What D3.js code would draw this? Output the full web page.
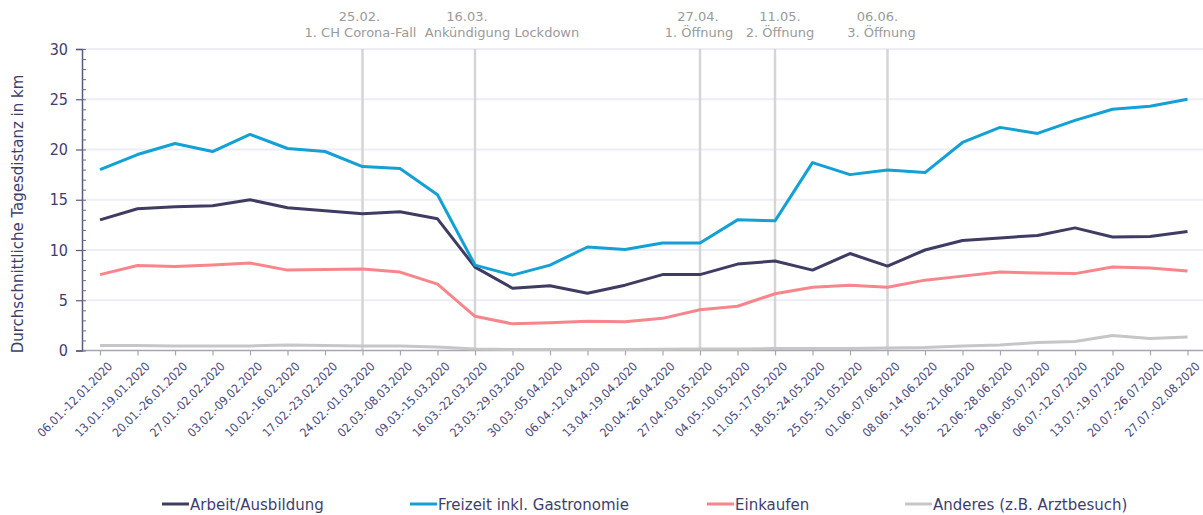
<!DOCTYPE html>
<html>
<head>
<meta charset="utf-8">
<script src="https://cdn.jsdelivr.net/npm/d3@7"></script>
<style>
  body { margin: 0; background: #fff; }
  svg text { font-family: "DejaVu Sans Condensed", "DejaVu Sans", sans-serif; }
  svg text.wide { font-family: "DejaVu Sans", sans-serif; }
</style>
</head>
<body>
<svg id="chart" width="1203" height="515"></svg>
<script>
// weeks (x categories)
const weeks = [
  "06.01.-12.01.2020", "13.01.-19.01.2020", "20.01.-26.01.2020", "27.01.-02.02.2020",
  "03.02.-09.02.2020", "10.02.-16.02.2020", "17.02.-23.02.2020", "24.02.-01.03.2020",
  "02.03.-08.03.2020", "09.03.-15.03.2020", "16.03.-22.03.2020", "23.03.-29.03.2020",
  "30.03.-05.04.2020", "06.04.-12.04.2020", "13.04.-19.04.2020", "20.04.-26.04.2020",
  "27.04.-03.05.2020", "04.05.-10.05.2020", "11.05.-17.05.2020", "18.05.-24.05.2020",
  "25.05.-31.05.2020", "01.06.-07.06.2020", "08.06.-14.06.2020", "15.06.-21.06.2020",
  "22.06.-28.06.2020", "29.06.-05.07.2020", "06.07.-12.07.2020", "13.07.-19.07.2020",
  "20.07.-26.07.2020", "27.07.-02.08.2020"
];

// average daily distance in km
const arbeit = [13.0, 14.1, 14.3, 14.4, 15.0, 14.2, 13.9, 13.6, 13.8, 13.1,
  8.3, 6.2, 6.45, 5.7, 6.5, 7.55, 7.55, 8.6, 8.9, 8.0,
  9.65, 8.4, 10.0, 10.95, 11.2, 11.45, 12.2, 11.3, 11.35, 11.85];
const freizeit = [18.0, 19.5, 20.6, 19.8, 21.5, 20.1, 19.8, 18.3, 18.1, 15.5,
  8.5, 7.5, 8.5, 10.3, 10.05, 10.7, 10.7, 13.0, 12.9, 18.7,
  17.5, 17.95, 17.7, 20.7, 22.2, 21.6, 22.9, 24.0, 24.3, 25.0];
const einkaufen = [7.55, 8.45, 8.35, 8.5, 8.7, 8.0, 8.05, 8.1, 7.8, 6.6,
  3.4, 2.65, 2.75, 2.9, 2.85, 3.2, 4.05, 4.4, 5.65, 6.3,
  6.5, 6.3, 7.0, 7.4, 7.8, 7.7, 7.65, 8.3, 8.2, 7.9];
const anderes = [0.5, 0.5, 0.45, 0.45, 0.45, 0.55, 0.5, 0.45, 0.45, 0.35,
  0.15, 0.1, 0.1, 0.1, 0.1, 0.12, 0.15, 0.15, 0.2, 0.2,
  0.2, 0.25, 0.3, 0.45, 0.55, 0.8, 0.9, 1.5, 1.2, 1.35];

const seriesNames = ["Arbeit/Ausbildung", "Freizeit inkl. Gastronomie", "Einkaufen", "Anderes (z.B. Arztbesuch)"];
const seriesColors = ["#3e3c62", "#12a0d5", "#f7858b", "#c6c6c6"];

// event markers
const eventWeeks = ["24.02.-01.03.2020", "16.03.-22.03.2020", "27.04.-03.05.2020", "11.05.-17.05.2020", "01.06.-07.06.2020"];
const eventDates = ["25.02.", "16.03.", "27.04.", "11.05.", "06.06."];
const eventTexts = ["1. CH Corona-Fall", "Ankündigung Lockdown", "1. Öffnung", "2. Öffnung", "3. Öffnung"];

const yTicks = [0, 5, 10, 15, 20, 25, 30];

let svg = d3.select("#chart");

let x = d3.scalePoint()
  .domain(weeks)
  .range([100, 1187.5]);

let y = d3.scaleLinear()
  .domain([0, 30])
  .range([350.5, 49]);

let axisX0 = 82, plotRight = 1203;

// gridlines
svg.append("g")
  .selectAll("line")
  .data(yTicks.slice(1))
  .enter().append("line")
  .attr("x1", axisX0)
  .attr("x2", plotRight)
  .attr("y1", d => y(d))
  .attr("y2", d => y(d))
  .attr("stroke", "#ededf5")
  .attr("stroke-width", 2);

// event lines
svg.append("g")
  .selectAll("line")
  .data(eventWeeks)
  .enter().append("line")
  .attr("x1", d => x(d))
  .attr("x2", d => x(d))
  .attr("y1", y(30))
  .attr("y2", y(0))
  .attr("stroke", "#d5d5d5")
  .attr("stroke-width", 2.5);

// annotation labels (small nudges so they don't collide)
let dateShift = [-3, -8, -2, 5, -10];
let textShift = [-2, 27, -1, 5, -6];
let ann = svg.append("g").attr("fill", "#9a9a9a").attr("font-size", 13).attr("text-anchor", "middle");
eventWeeks.forEach(function(w, i) {
  ann.append("text").attr("class", "wide").attr("x", x(w) + dateShift[i]).attr("y", 21).text(eventDates[i]);
  ann.append("text").attr("class", "wide").attr("x", x(w) + textShift[i]).attr("y", 37).text(eventTexts[i]);
});

// x axis
let xAxis = svg.append("g")
  .attr("transform", "translate(0," + y(0) + ")")
  .call(d3.axisBottom(x).tickSizeOuter(0).tickSize(5));
xAxis.select(".domain").remove();
xAxis.append("line")
  .attr("x1", axisX0).attr("x2", plotRight)
  .attr("stroke", "#a6a6b0").attr("stroke-width", 1.5);
xAxis.selectAll(".tick line").attr("stroke", "#a6a6b0").attr("stroke-width", 1.2);
xAxis.selectAll(".tick text")
  .attr("fill", "#4a4a7c")
  .attr("font-size", 12)
  .attr("text-anchor", "end")
  .attr("transform", "translate(4,8) rotate(-45)")
  .attr("dy", "0.35em");

// y axis: major ticks crossing axis, minor ticks on the right
let yAxis = svg.append("g")
  .attr("transform", "translate(" + axisX0 + ",0)")
  .call(d3.axisLeft(y).tickValues(yTicks).tickSize(6).tickPadding(8));
yAxis.select(".domain").attr("stroke", "#5a5a80").attr("stroke-width", 1.5);
yAxis.selectAll(".tick line").attr("stroke", "#5a5a80").attr("stroke-width", 1.2);
yAxis.selectAll(".tick text").attr("fill", "#3e3e6e").attr("font-size", 16);

let yMinor = svg.append("g")
  .attr("transform", "translate(" + axisX0 + ",0)")
  .call(d3.axisRight(y).tickValues(d3.range(0, 31)).tickSize(4).tickFormat(""));
yMinor.select(".domain").remove();
yMinor.selectAll(".tick line").attr("stroke", "#6a6a8c").attr("stroke-width", 1);

// y axis title
svg.append("text")
  .attr("class", "wide")
  .attr("transform", "translate(23,214) rotate(-90)")
  .attr("text-anchor", "middle")
  .attr("fill", "#3e3e6e")
  .attr("font-size", 15)
  .text("Durchschnittliche Tagesdistanz in km");

// lines
let line = d3.line()
  .x((d, i) => x(weeks[i]))
  .y(d => y(d));

let allSeries = [arbeit, freizeit, einkaufen, anderes];
svg.append("g")
  .selectAll("path")
  .data([anderes, einkaufen, arbeit, freizeit])
  .enter().append("path")
  .attr("d", line)
  .attr("fill", "none")
  .attr("stroke", d => seriesColors[allSeries.indexOf(d)])
  .attr("stroke-width", 3)
  .attr("stroke-linejoin", "round");

// legend
let legendX = [162, 410, 707, 905];
let legend = svg.append("g").attr("transform", "translate(0,504)");
let items = legend.selectAll(".item")
  .data(seriesNames)
  .enter().append("g")
  .attr("class", "item")
  .attr("transform", (d, i) => "translate(" + legendX[i] + ",0)");
items.append("line")
  .attr("x1", 0).attr("x2", 27)
  .attr("stroke", (d, i) => seriesColors[i])
  .attr("stroke-width", 3);
items.append("text")
  .attr("class", "wide")
  .attr("x", 28)
  .attr("y", 5.5)
  .attr("fill", "#3e3e6e")
  .attr("font-size", 15)
  .text(d => d);
</script>
</body>
</html>
